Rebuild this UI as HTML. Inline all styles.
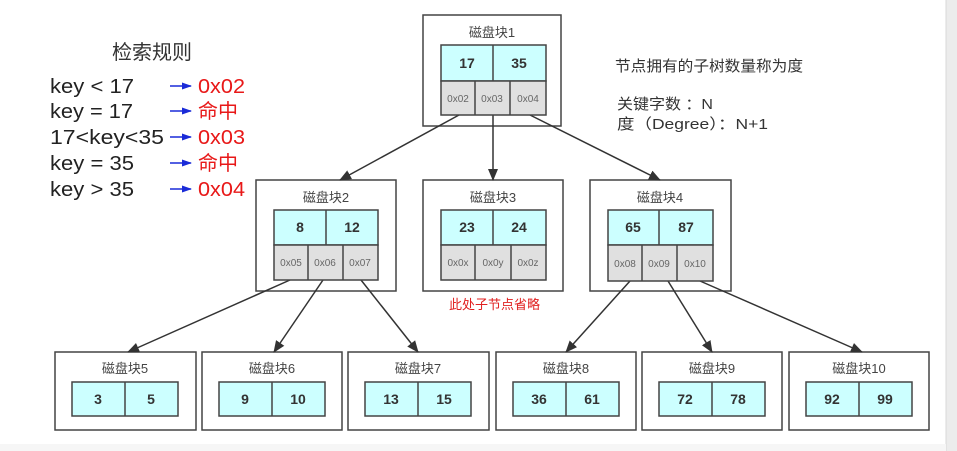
<!DOCTYPE html>
<html><head><meta charset="utf-8"><style>
body{margin:0;background:#fff;}
svg{display:block;}
text{font-family:"Liberation Sans","Noto Sans CJK SC",sans-serif;}
</style></head><body>
<svg width="957" height="451" viewBox="0 0 957 451" xmlns="http://www.w3.org/2000/svg">
<defs>
<marker id="a" markerWidth="12" markerHeight="12" refX="11" refY="6" orient="auto" markerUnits="userSpaceOnUse"><path d="M0,1 L12,6 L0,11 z" fill="#333"/></marker>
<marker id="b" markerWidth="10" markerHeight="10" refX="9" refY="5" orient="auto" markerUnits="userSpaceOnUse"><path d="M0,1.5 L10,5 L0,8.5 z" fill="#1a2bd8"/></marker>
</defs>
<rect x="946" y="0" width="11" height="451" fill="#ececec"/>
<line x1="946" y1="0" x2="946" y2="451" stroke="#d8d8d8"/>
<rect x="0" y="444" width="946" height="7" fill="#f6f6f6"/>

<g font-size="20" fill="#222">
<text x="112" y="59" fill="#333" textLength="80" lengthAdjust="spacingAndGlyphs">检索规则</text>
<text x="50" y="93" textLength="84" lengthAdjust="spacingAndGlyphs">key &lt; 17</text>
<text x="50" y="118" textLength="83" lengthAdjust="spacingAndGlyphs">key = 17</text>
<text x="50" y="144" textLength="114" lengthAdjust="spacingAndGlyphs">17&lt;key&lt;35</text>
<text x="50" y="170" textLength="84" lengthAdjust="spacingAndGlyphs">key = 35</text>
<text x="50" y="196" textLength="84" lengthAdjust="spacingAndGlyphs">key &gt; 35</text>
</g>
<g stroke="#1a2bd8" stroke-width="1.6" marker-end="url(#b)">
<line x1="170" y1="86" x2="191" y2="86"/><line x1="170" y1="111" x2="191" y2="111"/><line x1="170" y1="137" x2="191" y2="137"/><line x1="170" y1="163" x2="191" y2="163"/><line x1="170" y1="189" x2="191" y2="189"/>
</g>
<g fill="#e81818" font-size="20">
<text x="198" y="93" textLength="47" lengthAdjust="spacingAndGlyphs">0x02</text><text x="198" y="118">命中</text><text x="198" y="144" textLength="47" lengthAdjust="spacingAndGlyphs">0x03</text><text x="198" y="170">命中</text><text x="198" y="196" textLength="47" lengthAdjust="spacingAndGlyphs">0x04</text>
</g>
<g font-size="15" fill="#333">
<text x="615" y="71" textLength="188" lengthAdjust="spacingAndGlyphs">节点拥有的子树数量称为度</text>
<text x="617" y="109" textLength="96" lengthAdjust="spacingAndGlyphs">关键字数 ：N</text>
<text x="617" y="129" textLength="151" lengthAdjust="spacingAndGlyphs">度（Degree）：N+1</text>
</g>
<text x="449" y="309" font-size="13" fill="#e02020">此处子节点省略</text>

<g stroke="#444" stroke-width="1.5" fill="#fff">
<rect x="423" y="15" width="138" height="111"/>
<rect x="256" y="180" width="140" height="111"/>
<rect x="423" y="180" width="140" height="111"/>
<rect x="590" y="180" width="141" height="111"/>
<rect x="55" y="352" width="141" height="78"/>
<rect x="202" y="352" width="140" height="78"/>
<rect x="348" y="352" width="141" height="78"/>
<rect x="496" y="352" width="140" height="78"/>
<rect x="642" y="352" width="140" height="78"/>
<rect x="789" y="352" width="140" height="78"/>
</g>

<g stroke="#333" stroke-width="1.5" marker-end="url(#a)">
<line x1="459" y1="115" x2="340" y2="180"/>
<line x1="493" y1="115" x2="493" y2="180"/>
<line x1="530" y1="115" x2="660" y2="180"/>
<line x1="290" y1="280" x2="128" y2="352"/>
<line x1="323" y1="280" x2="274" y2="352"/>
<line x1="361" y1="280" x2="418" y2="352"/>
<line x1="630" y1="281" x2="566" y2="352"/>
<line x1="668" y1="281" x2="712" y2="352"/>
<line x1="700" y1="281" x2="862" y2="352"/>
</g>

<g stroke="#444" stroke-width="1.5">
<rect x="441" y="45" width="105" height="36" fill="#ccffff"/><line x1="493" y1="45" x2="493" y2="81"/>
<rect x="441" y="81" width="105" height="34" fill="#e0e0e0"/><line x1="475" y1="81" x2="475" y2="115"/><line x1="510" y1="81" x2="510" y2="115"/>
<rect x="274" y="210" width="104" height="35" fill="#ccffff"/><line x1="326" y1="210" x2="326" y2="245"/>
<rect x="274" y="245" width="104" height="35" fill="#e0e0e0"/><line x1="308" y1="245" x2="308" y2="280"/><line x1="343" y1="245" x2="343" y2="280"/>
<rect x="441" y="210" width="105" height="35" fill="#ccffff"/><line x1="493" y1="210" x2="493" y2="245"/>
<rect x="441" y="245" width="105" height="35" fill="#e0e0e0"/><line x1="475" y1="245" x2="475" y2="280"/><line x1="511" y1="245" x2="511" y2="280"/>
<rect x="608" y="210" width="105" height="35" fill="#ccffff"/><line x1="659" y1="210" x2="659" y2="245"/>
<rect x="608" y="245" width="105" height="36" fill="#e0e0e0"/><line x1="642" y1="245" x2="642" y2="281"/><line x1="677" y1="245" x2="677" y2="281"/>
<g fill="#ccffff">
<rect x="72" y="382" width="106" height="34"/><rect x="219" y="382" width="106" height="34"/><rect x="365" y="382" width="106" height="34"/>
<rect x="513" y="382" width="106" height="34"/><rect x="659" y="382" width="106" height="34"/><rect x="806" y="382" width="106" height="34"/>
</g>
<line x1="125" y1="382" x2="125" y2="416"/><line x1="272" y1="382" x2="272" y2="416"/><line x1="418" y1="382" x2="418" y2="416"/>
<line x1="566" y1="382" x2="566" y2="416"/><line x1="712" y1="382" x2="712" y2="416"/><line x1="859" y1="382" x2="859" y2="416"/>
</g>

<g font-size="13" fill="#444" text-anchor="middle">
<text x="492" y="37">磁盘块1</text><text x="326" y="202">磁盘块2</text><text x="493" y="202">磁盘块3</text><text x="660" y="202">磁盘块4</text>
<text x="125" y="373">磁盘块5</text><text x="272" y="373">磁盘块6</text><text x="418" y="373">磁盘块7</text>
<text x="566" y="373">磁盘块8</text><text x="712" y="373">磁盘块9</text><text x="859" y="373">磁盘块10</text>
</g>
<g font-size="14" font-weight="bold" fill="#333" text-anchor="middle">
<text x="467" y="68">17</text><text x="519" y="68">35</text>
<text x="300" y="232">8</text><text x="352" y="232">12</text>
<text x="467" y="232">23</text><text x="519" y="232">24</text>
<text x="633" y="232">65</text><text x="686" y="232">87</text>
<text x="98" y="404">3</text><text x="151" y="404">5</text>
<text x="245" y="404">9</text><text x="298" y="404">10</text>
<text x="391" y="404">13</text><text x="444" y="404">15</text>
<text x="539" y="404">36</text><text x="592" y="404">61</text>
<text x="685" y="404">72</text><text x="738" y="404">78</text>
<text x="832" y="404">92</text><text x="885" y="404">99</text>
</g>
<g font-size="10" fill="#666" text-anchor="middle">
<text x="458" y="102">0x02</text><text x="492" y="102">0x03</text><text x="528" y="102">0x04</text>
<text x="291" y="266">0x05</text><text x="325" y="266">0x06</text><text x="360" y="266">0x07</text>
<text x="458" y="266">0x0x</text><text x="493" y="266">0x0y</text><text x="528" y="266">0x0z</text>
<text x="625" y="267">0x08</text><text x="659" y="267">0x09</text><text x="695" y="267">0x10</text>
</g>
</svg>
</body></html>
